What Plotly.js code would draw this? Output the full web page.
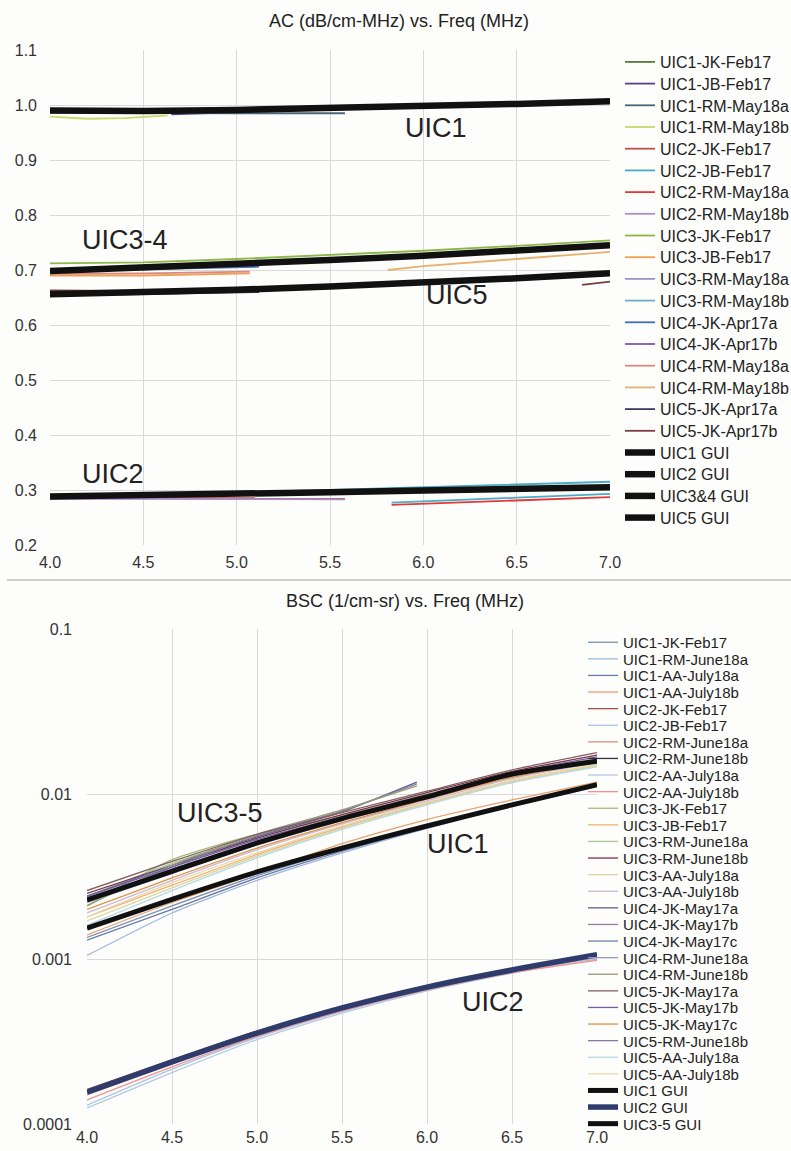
<!DOCTYPE html>
<html>
<head>
<meta charset="utf-8">
<script src="https://cdn.plot.ly/plotly-3.0.1.min.js"></script>
<style>html,body{margin:0;padding:0;background:#fdfdfb;}#chart{width:791px;height:1151px;}</style>
</head>
<body>
<div id="chart"></div>
<script>
// ---------- Frequency grids (MHz) ----------
var freq = [4.0, 4.5, 5.0, 5.5, 6.0, 6.5, 7.0];

// ---------- AC (dB/cm-MHz) data ----------
var acUIC1_JK_Feb17_x = [4.0, 4.5, 5.0, 5.5, 6.0, 6.5, 7.0];
var acUIC1_JK_Feb17 = [0.992, 0.990, 0.992, 0.995, 0.999, 1.003, 1.008];
var acUIC1_JB_Feb17_x = [4.65, 5.0, 5.5, 6.0, 6.5, 7.0];
var acUIC1_JB_Feb17 = [0.983, 0.987, 0.992, 0.997, 1.001, 1.006];
var acUIC1_RM_May18a_x = [4.0, 4.5, 5.0, 5.58];
var acUIC1_RM_May18a = [0.986, 0.985, 0.985, 0.985];
var acUIC1_RM_May18b_x = [4.0, 4.2, 4.4, 4.63];
var acUIC1_RM_May18b = [0.979, 0.975, 0.976, 0.981];
var acUIC2_JK_Feb17_x = [4.0, 4.5, 5.0, 5.58];
var acUIC2_JK_Feb17 = [0.286, 0.286, 0.286, 0.285];
var acUIC2_JB_Feb17_x = [4.0, 4.5, 5.0, 5.5, 6.0, 6.5, 7.0, null, 5.83, 6.0, 6.5, 7.0];
var acUIC2_JB_Feb17 = [0.289, 0.292, 0.296, 0.300, 0.305, 0.310, 0.315, null, 0.277, 0.279, 0.286, 0.293];
var acUIC2_RM_May18a_x = [5.83, 6.0, 6.5, 7.0];
var acUIC2_RM_May18a = [0.273, 0.275, 0.281, 0.287];
var acUIC2_RM_May18b_x = [4.0, 4.5, 5.0, 5.58];
var acUIC2_RM_May18b = [0.284, 0.284, 0.284, 0.283];
var acUIC3_JK_Feb17_x = [4.0, 4.5, 5.0, 5.5, 6.0, 6.5, 7.0];
var acUIC3_JK_Feb17 = [0.712, 0.714, 0.720, 0.727, 0.735, 0.744, 0.754];
var acUIC3_JB_Feb17_x = [4.0, 4.5, 5.07];
var acUIC3_JB_Feb17 = [0.690, 0.690, 0.694];
var acUIC3_RM_May18a_x = [4.0, 4.5, 5.0, 5.5, 6.0, 6.5, 7.0];
var acUIC3_RM_May18a = [0.700, 0.705, 0.712, 0.719, 0.727, 0.736, 0.746];
var acUIC3_RM_May18b_x = [4.0, 4.5, 5.0, 5.5, 6.0, 6.5, 7.0];
var acUIC3_RM_May18b = [0.697, 0.703, 0.709, 0.716, 0.724, 0.733, 0.743];
var acUIC4_JK_Apr17a_x = [4.0, 4.5, 5.12];
var acUIC4_JK_Apr17a = [0.700, 0.701, 0.706];
var acUIC4_JK_Apr17b_x = [4.0, 4.5, 5.0, 5.5, 6.0, 6.5, 7.0];
var acUIC4_JK_Apr17b = [0.699, 0.706, 0.713, 0.720, 0.728, 0.737, 0.747];
var acUIC4_RM_May18a_x = [4.0, 4.5, 5.07];
var acUIC4_RM_May18a = [0.693, 0.694, 0.697];
var acUIC4_RM_May18b_x = [5.81, 6.0, 6.5, 7.0];
var acUIC4_RM_May18b = [0.700, 0.707, 0.720, 0.733];
var acUIC5_JK_Apr17a_x = [4.0, 4.5, 5.12];
var acUIC5_JK_Apr17a = [0.654, 0.656, 0.660];
var acUIC5_JK_Apr17b_x = [4.0, 4.35, null, 6.85, 7.0];
var acUIC5_JK_Apr17b = [0.663, 0.662, null, 0.673, 0.679];
var acUIC1_GUI = [0.990, 0.989, 0.991, 0.994, 0.998, 1.002, 1.007];
var acUIC2_GUI = [0.288, 0.290, 0.293, 0.296, 0.299, 0.302, 0.305];
var acUIC34_GUI = [0.698, 0.704, 0.711, 0.718, 0.726, 0.735, 0.745];
var acUIC5_GUI = [0.656, 0.659, 0.664, 0.670, 0.677, 0.685, 0.694];

// ---------- BSC (1/cm-sr) data ----------
var freqShort = [4.0, 4.5, 5.0, 5.5, 5.94];
var bscUIC1_JK_Feb17 = [0.00135, 0.0021, 0.0032, 0.0046, 0.0063, 0.0085, 0.0112];
var bscUIC1_RM_June18a = [0.00105, 0.0019, 0.0030, 0.0044, 0.0062, 0.0084, 0.0111];
var bscUIC1_AA_July18a = [0.0013, 0.0020, 0.0031, 0.0045, 0.0063, 0.0086, 0.0114];
var bscUIC1_AA_July18b = [0.0014, 0.0022, 0.0033, 0.0050, 0.0070, 0.0092, 0.0118];
var bscUIC2_JK_Feb17 = [0.000162, 0.000245, 0.000365, 0.000510, 0.000680, 0.000860, 0.00105];
var bscUIC2_JB_Feb17 = [0.000130, 0.000215, 0.000335, 0.000480, 0.000650, 0.000830, 0.00102];
var bscUIC2_RM_June18a = [0.000150, 0.000232, 0.000360, 0.000498, 0.000665, 0.000840, 0.00100];
var bscUIC2_RM_June18b = [0.000158, 0.000240, 0.000358, 0.000508, 0.000680, 0.000862, 0.00107];
var bscUIC2_AA_July18a = [0.000125, 0.000205, 0.000325, 0.000470, 0.000640, 0.000820, 0.00101];
var bscUIC2_AA_July18b = [0.000140, 0.000222, 0.000340, 0.000485, 0.000650, 0.000825, 0.00098];
var bscUIC3_JK_Feb17 = [0.0021, 0.0040, 0.0057, 0.0074, 0.0098, 0.0130, 0.0160];
var bscUIC3_JB_Feb17 = [0.0018, 0.0028, 0.0043, 0.0063, 0.0088, 0.0120, 0.0150];
var bscUIC3_RM_June18a = [0.0024, 0.0038, 0.0055, 0.0074, 0.0100, 0.0133, 0.0165];
var bscUIC3_RM_June18b = [0.0025, 0.0037, 0.0054, 0.0075, 0.0102, 0.0137, 0.0172];
var bscUIC3_AA_July18a = [0.0017, 0.0027, 0.0042, 0.0062, 0.0087, 0.0118, 0.0148];
var bscUIC3_AA_July18b = [0.0019, 0.0030, 0.0046, 0.0066, 0.0091, 0.0124, 0.0155];
var bscUIC4_JK_May17a = [0.0024, 0.0037, 0.0055, 0.0078, 0.0118];
var bscUIC4_JK_May17b = [0.0022, 0.0036, 0.0056, 0.0079, 0.0115];
var bscUIC4_JK_May17c = [0.0023, 0.0035, 0.0051, 0.0071, 0.0097, 0.0131, 0.0162];
var bscUIC4_RM_June18a = [0.0022, 0.0033, 0.0049, 0.0069, 0.0095, 0.0128, 0.0158];
var bscUIC4_RM_June18b = [0.0021, 0.0037, 0.0057, 0.0080, 0.0112];
var bscUIC5_JK_May17a = [0.0026, 0.0039, 0.0057, 0.0077, 0.0104, 0.0140, 0.0178];
var bscUIC5_JK_May17b = [0.0024, 0.0036, 0.0053, 0.0073, 0.0099, 0.0134, 0.0168];
var bscUIC5_JK_May17c = [0.0020, 0.0031, 0.0047, 0.0067, 0.0093, 0.0126, 0.0157];
var bscUIC5_RM_June18b = [0.0023, 0.0034, 0.0050, 0.0070, 0.0096, 0.0130, 0.0162];
var bscUIC5_AA_July18a = [0.0016, 0.0026, 0.0041, 0.0061, 0.0086, 0.0117, 0.0146];
var bscUIC5_AA_July18b = [0.0018, 0.0029, 0.0044, 0.0064, 0.0089, 0.0121, 0.0151];
var bscUIC1_GUI = [0.00154, 0.0023, 0.00337, 0.0047, 0.0064, 0.0086, 0.0114];
var bscUIC2_GUI = [0.000156, 0.000238, 0.000356, 0.000505, 0.000676, 0.000858, 0.00106];
var bscUIC35_GUI = [0.00228, 0.0034, 0.00505, 0.0071, 0.0096, 0.0132, 0.0158];

// ---------- Tick labels ----------
var acTickVals = [0.2, 0.3, 0.4, 0.5, 0.6, 0.7, 0.8, 0.9, 1.0, 1.1];
var bscTickVals = [0.0001, 0.001, 0.01, 0.1];
var bscTickText = ['0.0001', '0.001', '0.01', '0.1'];
var freqTickVals = [4.0, 4.5, 5.0, 5.5, 6.0, 6.5, 7.0];

// ---------- Build traces ----------
var FONT = 'Liberation Sans, Arial, Helvetica, sans-serif';
var data = [];
function ac(name, x, y, color, w) {
  data.push({type: 'scatter', mode: 'lines', name: name, x: x, y: y, xaxis: 'x', yaxis: 'y',
    line: {color: color, width: w || 1.8}, connectgaps: false, legend: 'legend', hoverinfo: 'skip'});
}
function bsc(name, x, y, color, w) {
  data.push({type: 'scatter', mode: 'lines', name: name, x: x, y: y, xaxis: 'x2', yaxis: 'y2',
    line: {color: color, width: w || 1.3, shape: 'spline', smoothing: 0.6}, legend: 'legend2', hoverinfo: 'skip'});
}

ac('UIC1-JK-Feb17', acUIC1_JK_Feb17_x, acUIC1_JK_Feb17, '#5e7a3a');
ac('UIC1-JB-Feb17', acUIC1_JB_Feb17_x, acUIC1_JB_Feb17, '#5a3e86');
ac('UIC1-RM-May18a', acUIC1_RM_May18a_x, acUIC1_RM_May18a, '#4a6478');
ac('UIC1-RM-May18b', acUIC1_RM_May18b_x, acUIC1_RM_May18b, '#c8d86a');
ac('UIC2-JK-Feb17', acUIC2_JK_Feb17_x, acUIC2_JK_Feb17, '#c0504d');
ac('UIC2-JB-Feb17', acUIC2_JB_Feb17_x, acUIC2_JB_Feb17, '#4bacc6');
ac('UIC2-RM-May18a', acUIC2_RM_May18a_x, acUIC2_RM_May18a, '#e03a3a');
ac('UIC2-RM-May18b', acUIC2_RM_May18b_x, acUIC2_RM_May18b, '#a890c8');
ac('UIC3-JK-Feb17', acUIC3_JK_Feb17_x, acUIC3_JK_Feb17, '#8cb84a');
ac('UIC3-JB-Feb17', acUIC3_JB_Feb17_x, acUIC3_JB_Feb17, '#f0a050');
ac('UIC3-RM-May18a', acUIC3_RM_May18a_x, acUIC3_RM_May18a, '#9a92c8');
ac('UIC3-RM-May18b', acUIC3_RM_May18b_x, acUIC3_RM_May18b, '#6fb0c0');
ac('UIC4-JK-Apr17a', acUIC4_JK_Apr17a_x, acUIC4_JK_Apr17a, '#4470b8');
ac('UIC4-JK-Apr17b', acUIC4_JK_Apr17b_x, acUIC4_JK_Apr17b, '#7a5aa8');
ac('UIC4-RM-May18a', acUIC4_RM_May18a_x, acUIC4_RM_May18a, '#d88a80');
ac('UIC4-RM-May18b', acUIC4_RM_May18b_x, acUIC4_RM_May18b, '#e8b070');
ac('UIC5-JK-Apr17a', acUIC5_JK_Apr17a_x, acUIC5_JK_Apr17a, '#3c3c5c');
ac('UIC5-JK-Apr17b', acUIC5_JK_Apr17b_x, acUIC5_JK_Apr17b, '#7a3c3c');
ac('UIC1 GUI', freq, acUIC1_GUI, '#111111', 6.5);
ac('UIC2 GUI', freq, acUIC2_GUI, '#111111', 6.5);
ac('UIC3&4 GUI', freq, acUIC34_GUI, '#111111', 6.5);
ac('UIC5 GUI', freq, acUIC5_GUI, '#111111', 6.5);

bsc('UIC1-JK-Feb17', freq, bscUIC1_JK_Feb17, '#7a90b8');
bsc('UIC1-RM-June18a', freq, bscUIC1_RM_June18a, '#9db8dc');
bsc('UIC1-AA-July18a', freq, bscUIC1_AA_July18a, '#6878a8');
bsc('UIC1-AA-July18b', freq, bscUIC1_AA_July18b, '#e8a070');
bsc('UIC2-JK-Feb17', freq, bscUIC2_JK_Feb17, '#a0504a');
bsc('UIC2-JB-Feb17', freq, bscUIC2_JB_Feb17, '#a8c4e4');
bsc('UIC2-RM-June18a', freq, bscUIC2_RM_June18a, '#d89080');
bsc('UIC2-RM-June18b', freq, bscUIC2_RM_June18b, '#303040');
bsc('UIC2-AA-July18a', freq, bscUIC2_AA_July18a, '#b4c8e0');
bsc('UIC2-AA-July18b', freq, bscUIC2_AA_July18b, '#f09090');
bsc('UIC3-JK-Feb17', freq, bscUIC3_JK_Feb17, '#a8b878');
bsc('UIC3-JB-Feb17', freq, bscUIC3_JB_Feb17, '#f0b070');
bsc('UIC3-RM-June18a', freq, bscUIC3_RM_June18a, '#a8c898');
bsc('UIC3-RM-June18b', freq, bscUIC3_RM_June18b, '#803048');
bsc('UIC3-AA-July18a', freq, bscUIC3_AA_July18a, '#d8d8a0');
bsc('UIC3-AA-July18b', freq, bscUIC3_AA_July18b, '#c8b8d8');
bsc('UIC4-JK-May17a', freqShort, bscUIC4_JK_May17a, '#5a6090');
bsc('UIC4-JK-May17b', freqShort, bscUIC4_JK_May17b, '#8a8098');
bsc('UIC4-JK-May17c', freq, bscUIC4_JK_May17c, '#7080b0');
bsc('UIC4-RM-June18a', freq, bscUIC4_RM_June18a, '#9098c8');
bsc('UIC4-RM-June18b', freqShort, bscUIC4_RM_June18b, '#989878');
bsc('UIC5-JK-May17a', freq, bscUIC5_JK_May17a, '#806060');
bsc('UIC5-JK-May17b', freq, bscUIC5_JK_May17b, '#7060a0');
bsc('UIC5-JK-May17c', freq, bscUIC5_JK_May17c, '#e09040');
bsc('UIC5-RM-June18b', freq, bscUIC5_RM_June18b, '#8878a8');
bsc('UIC5-AA-July18a', freq, bscUIC5_AA_July18a, '#b8d8e4');
bsc('UIC5-AA-July18b', freq, bscUIC5_AA_July18b, '#e8d8a8');
bsc('UIC1 GUI', freq, bscUIC1_GUI, '#111111', 5);
bsc('UIC2 GUI', freq, bscUIC2_GUI, '#2f3b6b', 5.5);
bsc('UIC3-5 GUI', freq, bscUIC35_GUI, '#111111', 5);

// ---------- Layout ----------
var W = 791, H = 1151;
function px(v) { return v / W; }
function py(v) { return 1 - v / H; }

var gridC = '#d9d9d9';
var tickF = {family: FONT, size: 16, color: '#333333'};
var annF = {family: FONT, size: 27, color: '#222222'};

var layout = {
  width: W, height: H,
  margin: {l: 0, r: 0, t: 0, b: 0, pad: 0, autoexpand: false},
  paper_bgcolor: '#fdfdfb', plot_bgcolor: '#fdfdfb',
  font: {family: FONT, color: '#222222'},
  showlegend: true,
  title: {text: 'AC (dB/cm-MHz) vs. Freq (MHz)', x: px(399), xanchor: 'center', y: py(21), yanchor: 'middle',
          font: {family: FONT, size: 18, color: '#222222'}},
  xaxis: {domain: [px(50), px(610)], anchor: 'y', range: [4, 7], tickvals: freqTickVals, tickformat: '.1f',
          showgrid: true, gridcolor: gridC, gridwidth: 1, zeroline: false, showline: false, ticks: '',
          tickfont: tickF, ticklabelstandoff: 6, fixedrange: true},
  yaxis: {domain: [py(545), py(50)], anchor: 'x', range: [0.2, 1.1], tickvals: acTickVals, tickformat: '.1f',
          showgrid: true, gridcolor: gridC, gridwidth: 1, zeroline: false, showline: false, ticks: '',
          tickfont: tickF, ticklabelstandoff: 12, fixedrange: true},
  xaxis2: {domain: [px(87), px(597)], anchor: 'y2', range: [4, 7], tickvals: freqTickVals, tickformat: '.1f',
           showgrid: true, gridcolor: gridC, gridwidth: 1, zeroline: false, showline: false, ticks: '',
           tickfont: tickF, ticklabelstandoff: 2, fixedrange: true},
  yaxis2: {domain: [py(1124), py(629)], anchor: 'x2', type: 'log', range: [-4, -1], tickvals: bscTickVals, ticktext: bscTickText,
           showgrid: true, gridcolor: gridC, gridwidth: 1, zeroline: false, showline: false, ticks: '',
           tickfont: tickF, ticklabelstandoff: 14, fixedrange: true},
  legend: {x: px(620), xanchor: 'left', y: py(45), yanchor: 'top', bgcolor: 'rgba(0,0,0,0)', borderwidth: 0,
           font: {family: FONT, size: 16, color: '#222222'}, tracegroupgap: 0, itemwidth: 30, traceorder: 'normal'},
  legend2: {x: px(583), xanchor: 'left', y: py(626), yanchor: 'top', bgcolor: 'rgba(0,0,0,0)', borderwidth: 0,
            font: {family: FONT, size: 15, color: '#222222'}, tracegroupgap: 0, itemwidth: 30, traceorder: 'normal'},
  annotations: [
    {text: 'BSC (1/cm-sr) vs. Freq (MHz)', xref: 'paper', yref: 'paper', x: px(405), y: py(601), xanchor: 'center', yanchor: 'middle',
     showarrow: false, font: {family: FONT, size: 18, color: '#222222'}},
    {text: 'UIC1', xref: 'x', yref: 'y', x: 6.07, y: 0.958, showarrow: false, font: annF},
    {text: 'UIC3-4', xref: 'x', yref: 'y', x: 4.40, y: 0.755, showarrow: false, font: annF},
    {text: 'UIC5', xref: 'x', yref: 'y', x: 6.18, y: 0.655, showarrow: false, font: annF},
    {text: 'UIC2', xref: 'x', yref: 'y', x: 4.34, y: 0.329, showarrow: false, font: annF},
    {text: 'UIC3-5', xref: 'x2', yref: 'y2', x: 4.78, y: -2.115, showarrow: false, font: annF},
    {text: 'UIC1', xref: 'x2', yref: 'y2', x: 6.18, y: -2.303, showarrow: false, font: annF},
    {text: 'UIC2', xref: 'x2', yref: 'y2', x: 6.39, y: -3.26, showarrow: false, font: annF}
  ],
  shapes: [
    {type: 'line', xref: 'paper', yref: 'paper', x0: px(7), x1: 1, y0: py(580), y1: py(580),
     line: {color: '#d0d0d0', width: 2}}
  ]
};

function respace(gd, cls, step) {
  var items = gd.querySelectorAll('g.' + cls + ' g.traces');
  if (!items.length) return;
  var m = /translate\(\s*([-\d.e]+)[ ,]+([-\d.e]+)/.exec(items[0].getAttribute('transform') || '');
  if (!m) return;
  var x0 = parseFloat(m[1]), y0 = parseFloat(m[2]);
  for (var i = 0; i < items.length; i++) {
    items[i].setAttribute('transform', 'translate(' + x0 + ',' + (y0 + i * step) + ')');
  }
}

Plotly.newPlot('chart', data, layout, {displayModeBar: false, staticPlot: true}).then(function (gd) {
  respace(gd, 'legend', 21.7);
  respace(gd, 'legend2', 16.6);
});
</script>
</body>
</html>
